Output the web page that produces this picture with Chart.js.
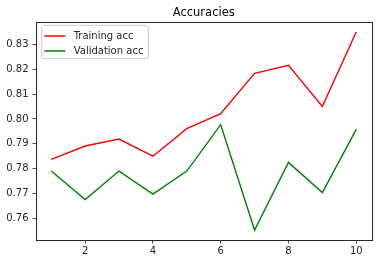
<!DOCTYPE html>
<html>
<head>
<meta charset="utf-8">
<script src="https://cdn.jsdelivr.net/npm/chart.js@4.4.0/dist/chart.umd.min.js"></script>
<style>
body{margin:0;background:#fff;}
canvas{display:block;}
</style>
</head>
<body>
<canvas id="myChart" width="381" height="264"></canvas>
<script>
const epochs=[1,2,3,4,5,6,7,8,9,10];
const trainAcc=[0.7837,0.7891,0.7919,0.7850,0.7961,0.8021,0.8184,0.8216,0.8051,0.8351];
const valAcc=[0.7790,0.7675,0.7790,0.7697,0.7790,0.7977,0.7552,0.7825,0.7703,0.7958];
const xTicks=[2,4,6,8,10];
const yTicks=[0.76,0.77,0.78,0.79,0.80,0.81,0.82,0.83];
const titleText="Accuracies";
const fontName="'DejaVu Sans', sans-serif";
const axisColor="#262626";

// box round the axes, title and legend like matplotlib
const mplBits={
  id:"mplBits",
  afterDraw(chart){
    var ctx=chart.ctx;
    var a=chart.chartArea;
    ctx.save();
    ctx.strokeStyle=axisColor;
    ctx.lineWidth=1;
    ctx.strokeRect(Math.round(a.left)+0.5,Math.round(a.top)+0.5,Math.round(a.right-a.left),Math.round(a.bottom-a.top));
    // title
    ctx.fillStyle="#000";
    ctx.font="11.5px "+fontName;
    ctx.textAlign="center";
    ctx.textBaseline="alphabetic";
    ctx.fillText(titleText,(a.left+a.right)/2,16);
    // legend
    var lx=a.left+5.7, ly=a.top+3.3, lw=106.6, lh=33.4;
    ctx.fillStyle="rgba(255,255,255,0.8)";
    ctx.strokeStyle="#cccccc";
    ctx.lineWidth=1;
    ctx.beginPath();
    ctx.roundRect(lx,ly,lw,lh,2);
    ctx.fill();
    ctx.stroke();
    ctx.font="10px "+fontName;
    ctx.textAlign="left";
    ctx.textBaseline="middle";
    chart.data.datasets.forEach(function(ds,i){
      var yy=ly+10.7+i*15;
      ctx.strokeStyle=ds.borderColor;
      ctx.lineWidth=1.5;
      ctx.beginPath();
      ctx.moveTo(lx+2.6,yy);
      ctx.lineTo(lx+23.6,yy);
      ctx.stroke();
      ctx.fillStyle=axisColor;
      ctx.fillText(ds.label,lx+32,yy+0.5);
    });
    ctx.restore();
  }
};

new Chart("myChart",{
  type:"line",
  data:{
    datasets:[{
      label:"Training acc",
      data:epochs.map((x,i)=>({x:x,y:trainAcc[i]})),
      borderColor:"#ff0000",
      borderWidth:1.4,
      pointRadius:0,
      tension:0,
      fill:false
    },{
      label:"Validation acc",
      data:epochs.map((x,i)=>({x:x,y:valAcc[i]})),
      borderColor:"#008000",
      borderWidth:1.4,
      pointRadius:0,
      tension:0,
      fill:false
    }]
  },
  options:{
    responsive:false,
    animation:false,
    layout:{padding:{top:22,right:9.5,left:0,bottom:0}},
    plugins:{legend:{display:false},title:{display:false},tooltip:{enabled:false}},
    scales:{
      x:{
        type:"linear",
        min:0.55,
        max:10.45,
        afterBuildTicks:function(scale){scale.ticks=xTicks.map(v=>({value:v}));},
        afterFit:function(scale){scale.height=24;},
        grid:{display:true,drawOnChartArea:false,drawTicks:true,tickLength:3.5,tickColor:axisColor,tickWidth:0.8},
        border:{display:false},
        ticks:{color:axisColor,font:{family:fontName,size:10},padding:2,maxRotation:0,
          callback:function(v){return String(v);}}
      },
      y:{
        type:"linear",
        min:0.7512,
        max:0.8391,
        afterBuildTicks:function(scale){scale.ticks=yTicks.map(v=>({value:v}));},
        afterFit:function(scale){scale.width=36;},
        grid:{display:true,drawOnChartArea:false,drawTicks:true,tickLength:3.5,tickColor:axisColor,tickWidth:0.8},
        border:{display:false},
        ticks:{color:axisColor,font:{family:fontName,size:10},padding:4,
          callback:function(v){return v.toFixed(2);}}
      }
    }
  },
  plugins:[mplBits]
});
</script>
</body>
</html>
